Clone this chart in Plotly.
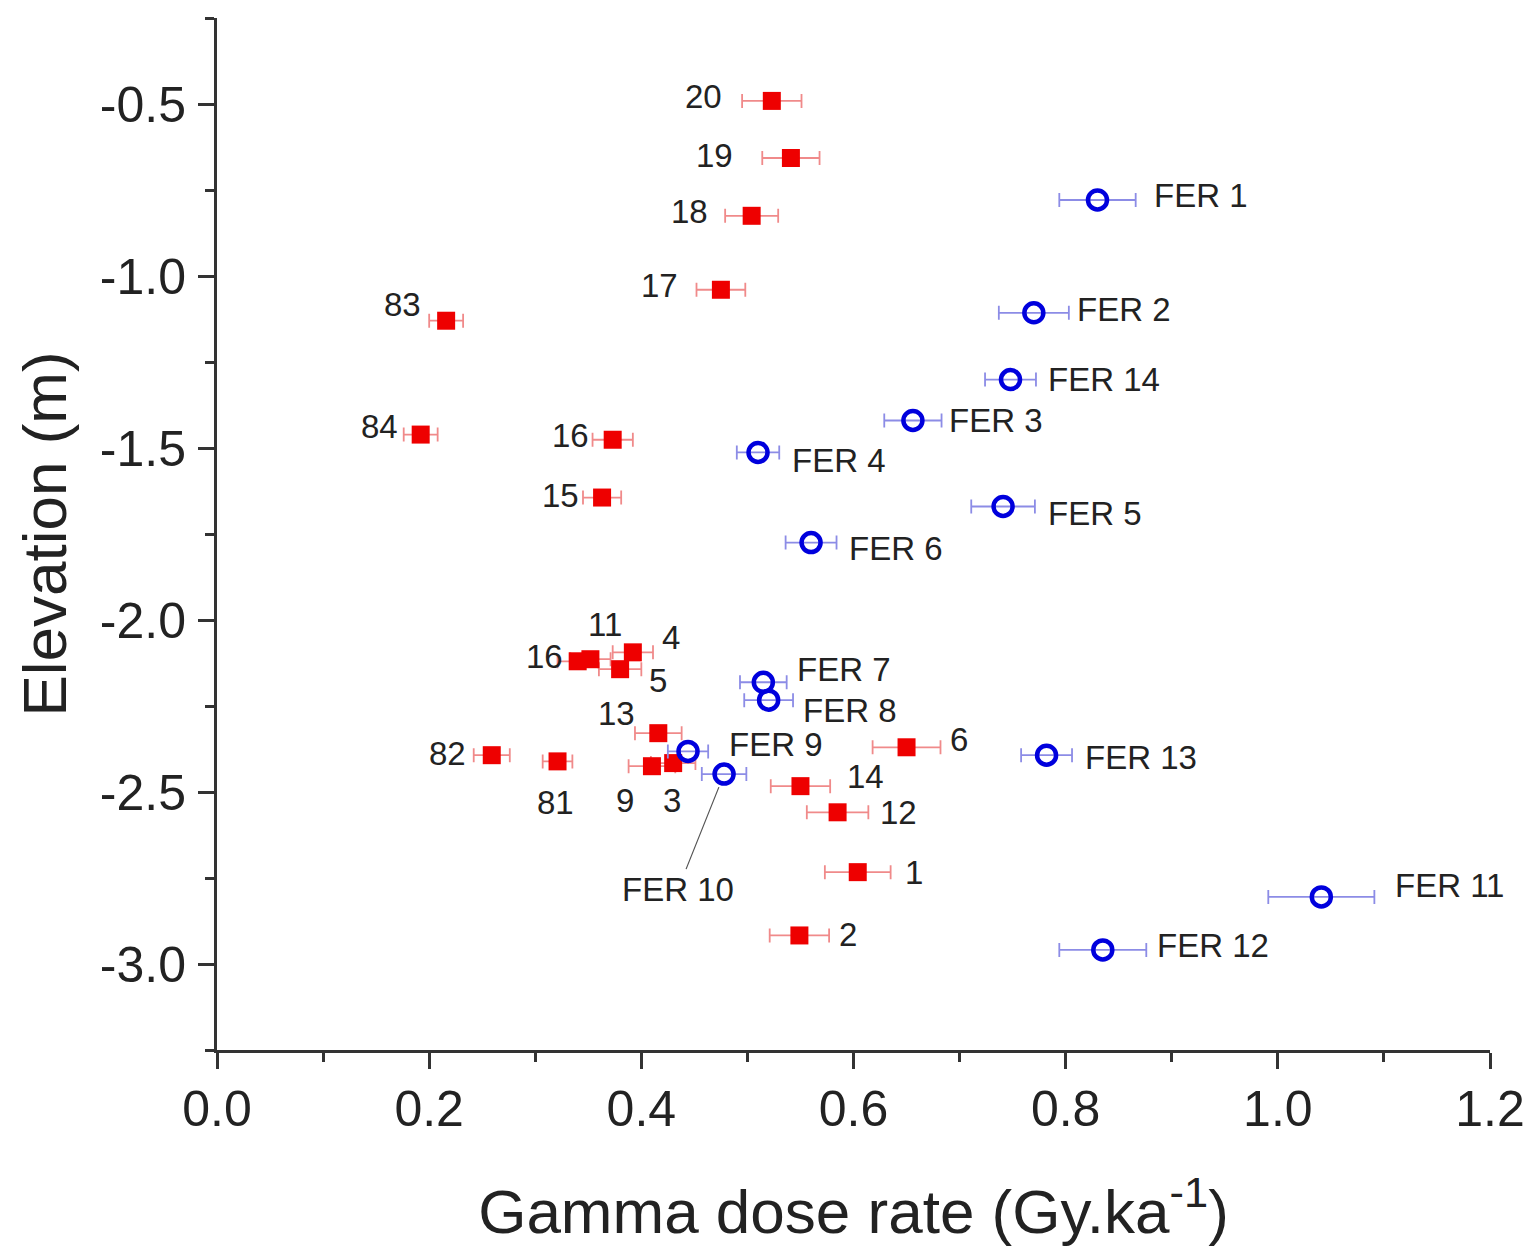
import plotly.graph_objects as go

# ---------------- data ----------------
red_labels = ["20", "19", "18", "17", "83", "84", "16", "15", "16", "11", "4", "5",
              "13", "82", "81", "9", "3", "6", "14", "12", "1", "2"]
red_dose = [0.523, 0.541, 0.504, 0.475, 0.216, 0.192, 0.373, 0.363, 0.340, 0.352, 0.392, 0.380,
            0.416, 0.259, 0.321, 0.410, 0.430, 0.650, 0.550, 0.585, 0.604, 0.549]
red_elev = [-0.491, -0.657, -0.825, -1.040, -1.130, -1.461, -1.476, -1.644, -2.120, -2.114, -2.094, -2.143,
            -2.329, -2.393, -2.411, -2.425, -2.416, -2.370, -2.483, -2.559, -2.733, -2.917]
red_err = [0.028, 0.027, 0.025, 0.023, 0.016, 0.016, 0.019, 0.018, 0.019, 0.019, 0.019, 0.020,
           0.022, 0.017, 0.014, 0.022, 0.021, 0.032, 0.028, 0.029, 0.031, 0.028]

blue_labels = ["FER 1", "FER 2", "FER 14", "FER 3", "FER 4", "FER 5", "FER 6", "FER 7",
               "FER 8", "FER 9", "FER 10", "FER 11", "FER 12", "FER 13"]
blue_dose = [0.830, 0.770, 0.748, 0.656, 0.510, 0.741, 0.560, 0.515,
             0.520, 0.444, 0.478, 1.041, 0.835, 0.782]
blue_elev = [-0.779, -1.107, -1.301, -1.420, -1.513, -1.670, -1.775, -2.181,
             -2.233, -2.382, -2.448, -2.805, -2.959, -2.393]
blue_err = [0.036, 0.033, 0.024, 0.027, 0.020, 0.030, 0.024, 0.022,
            0.023, 0.019, 0.021, 0.050, 0.041, 0.024]

x_tickvals = [0.0, 0.2, 0.4, 0.6, 0.8, 1.0, 1.2]
y_tickvals = [-0.5, -1.0, -1.5, -2.0, -2.5, -3.0]

# label placement (pixel offsets: anchor, xshift, yshift)
red_label_pos = [("right", -48, 4), ("right", -56, 3), ("right", -42, 4), ("right", -41, 4),
                 ("right", -23, 16), ("right", -21, 8), ("right", -22, 4), ("right", -21, 2),
                 ("right", -13, 5), ("center", 15, 35), ("left", 27, 15), ("left", 27, -11),
                 ("right", -21, 20), ("right", -24, 2), ("center", -2, -41), ("center", -27, -34),
                 ("center", -1, -37), ("left", 41, 8), ("left", 45, 10), ("left", 40, 0),
                 ("left", 45, 0), ("left", 38, 1)]
blue_label_pos = [("left", 55, 4), ("left", 41, 3), ("left", 35, 0), ("left", 34, 0),
                  ("left", 32, -8), ("left", 43, -7), ("left", 36, -6), ("left", 32, 13),
                  ("left", 32, -10), ("left", 39, 7), None, ("left", 72, 11),
                  ("left", 52, 4), ("left", 36, -2)]

FONT = "Arial, Liberation Sans, sans-serif"

fig = go.Figure()

fig.add_trace(go.Scatter(
    x=red_dose, y=red_elev, mode="markers",
    marker=dict(symbol="square", size=18, color="#ee0000", line=dict(width=0)),
    error_x=dict(type="data", array=red_err, visible=True, color="#f08a8a", thickness=1.8, width=7),
    showlegend=False,
))
fig.add_trace(go.Scatter(
    x=blue_dose, y=blue_elev, mode="markers",
    marker=dict(symbol="circle-open", size=19, color="#0000dd", line=dict(width=4.5, color="#0000dd")),
    error_x=dict(type="data", array=blue_err, visible=True, color="#8c8ce6", thickness=1.8, width=7),
    showlegend=False,
))

annotations = []
for lab, xv, yv, pos in zip(red_labels, red_dose, red_elev, red_label_pos):
    anc, dx, dy = pos
    annotations.append(dict(x=xv, y=yv, xref="x", yref="y", text=lab, showarrow=False,
                            xanchor=anc, yanchor="middle", xshift=dx, yshift=dy,
                            font=dict(family=FONT, size=33, color="#222")))
for lab, xv, yv, pos in zip(blue_labels, blue_dose, blue_elev, blue_label_pos):
    if pos is None:
        annotations.append(dict(x=xv, y=yv, xref="x", yref="y", text=lab, showarrow=True,
                                arrowhead=0, arrowwidth=1.2, arrowcolor="#555", ax=-46, ay=115,
                                standoff=14, xanchor="center", yanchor="middle",
                                font=dict(family=FONT, size=33, color="#222")))
    else:
        anc, dx, dy = pos
        annotations.append(dict(x=xv, y=yv, xref="x", yref="y", text=lab, showarrow=False,
                                xanchor=anc, yanchor="middle", xshift=dx, yshift=dy,
                                font=dict(family=FONT, size=33, color="#222")))

# page body has an 8px margin, so the figure is sized/offset to compensate
fig.update_layout(
    width=1521, height=1238,
    margin=dict(l=209, r=39, t=10, b=196),
    paper_bgcolor="white", plot_bgcolor="white",
    font=dict(family=FONT, color="#222"),
    annotations=annotations,
)
fig.update_xaxes(
    range=[0, 1.2], tickvals=x_tickvals, ticktext=[f"{v:.1f}" for v in x_tickvals],
    showline=True, linecolor="#333", linewidth=3, showgrid=False, zeroline=False,
    ticks="outside", ticklen=16, tickwidth=3, tickcolor="#333", automargin=False,
    minor=dict(ticks="outside", ticklen=9, tickwidth=3, dtick=0.1, tick0=0, tickcolor="#333", showgrid=False),
    tickfont=dict(family=FONT, size=50, color="#222"), ticklabelstandoff=-3,
    title=dict(text="Gamma dose rate (Gy.ka<sup>-1</sup>)", font=dict(family=FONT, size=62, color="#222"), standoff=58),
)
fig.update_yaxes(
    range=[-3.25, -0.25], tickvals=y_tickvals, ticktext=[f"{v:.1f}" for v in y_tickvals],
    showline=True, linecolor="#333", linewidth=3, showgrid=False, zeroline=False,
    ticks="outside", ticklen=16, tickwidth=3, tickcolor="#333", automargin=False,
    minor=dict(ticks="outside", ticklen=9, tickwidth=3, dtick=0.25, tick0=0, tickcolor="#333", showgrid=False),
    tickfont=dict(family=FONT, size=50, color="#222"), ticklabelstandoff=2,
    title=dict(text="Elevation (m)", font=dict(family=FONT, size=62, color="#222"), standoff=14),
)

fig.write_html("out.html")
